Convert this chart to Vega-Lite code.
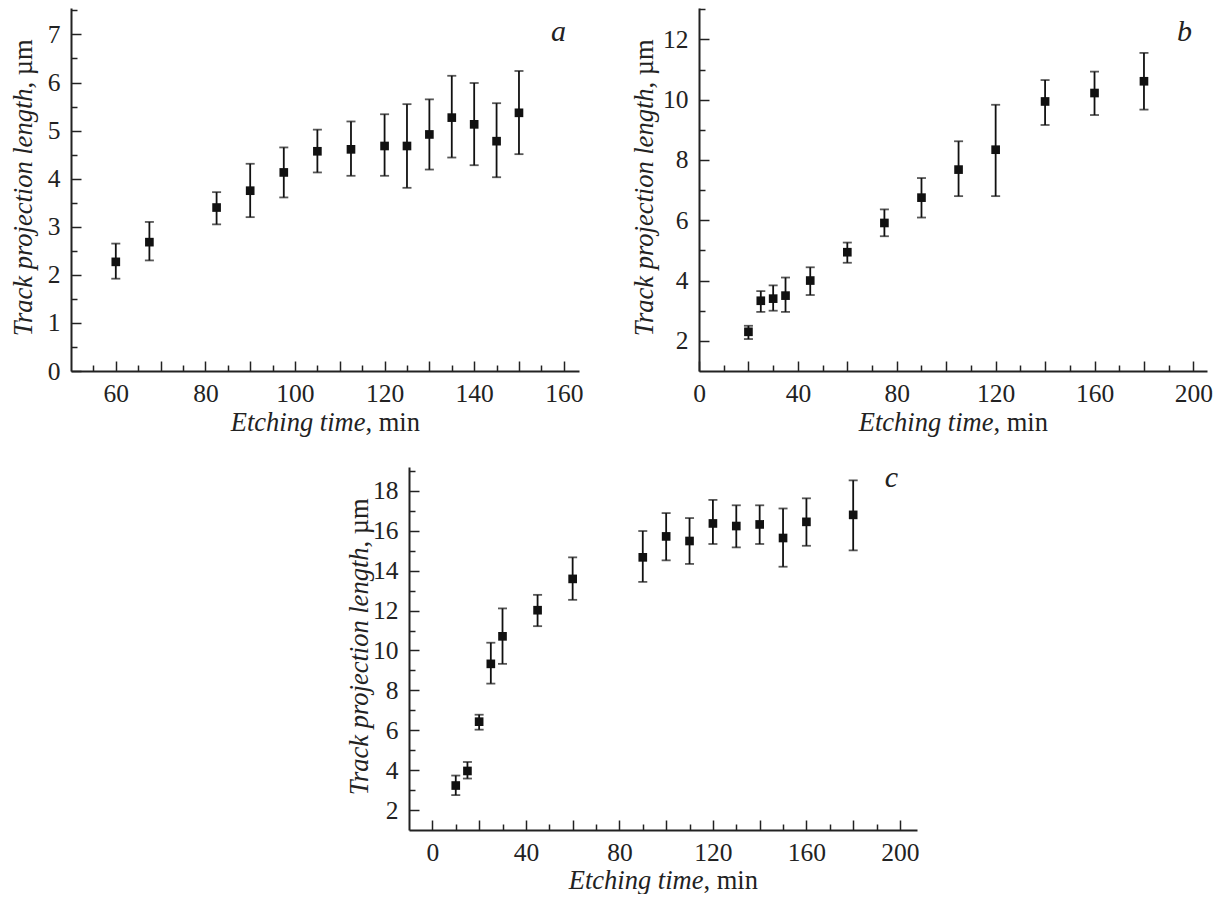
{
  "$schema": "https://vega.github.io/schema/vega-lite/v6.json",
  "padding": {"left": 9, "top": 8, "right": 0, "bottom": 0},
  "background": "white",
  "datasets": {
    "a": [
      {"t": 60, "len": 2.27, "lo": 1.92, "hi": 2.65},
      {"t": 67.5, "len": 2.68, "lo": 2.30, "hi": 3.10},
      {"t": 82.5, "len": 3.40, "lo": 3.05, "hi": 3.72},
      {"t": 90, "len": 3.75, "lo": 3.20, "hi": 4.31},
      {"t": 97.5, "len": 4.13, "lo": 3.61, "hi": 4.65},
      {"t": 105, "len": 4.57, "lo": 4.13, "hi": 5.02},
      {"t": 112.5, "len": 4.61, "lo": 4.06, "hi": 5.19},
      {"t": 120, "len": 4.68, "lo": 4.06, "hi": 5.34},
      {"t": 125, "len": 4.68, "lo": 3.81, "hi": 5.55},
      {"t": 130, "len": 4.92, "lo": 4.19, "hi": 5.65},
      {"t": 135, "len": 5.27, "lo": 4.44, "hi": 6.14},
      {"t": 140, "len": 5.13, "lo": 4.28, "hi": 5.99},
      {"t": 145, "len": 4.78, "lo": 4.03, "hi": 5.57},
      {"t": 150, "len": 5.37, "lo": 4.51, "hi": 6.24}
    ],
    "b": [
      {"t": 20, "len": 2.30, "lo": 2.06, "hi": 2.50},
      {"t": 25, "len": 3.33, "lo": 2.96, "hi": 3.65},
      {"t": 30, "len": 3.40, "lo": 3.00, "hi": 3.84},
      {"t": 35, "len": 3.50, "lo": 2.96, "hi": 4.10},
      {"t": 45, "len": 4.00, "lo": 3.52, "hi": 4.44},
      {"t": 60, "len": 4.94, "lo": 4.59, "hi": 5.26},
      {"t": 75, "len": 5.91, "lo": 5.47, "hi": 6.36},
      {"t": 90, "len": 6.75, "lo": 6.09, "hi": 7.40},
      {"t": 105, "len": 7.68, "lo": 6.80, "hi": 8.62},
      {"t": 120, "len": 8.34, "lo": 6.80, "hi": 9.83},
      {"t": 140, "len": 9.94, "lo": 9.16, "hi": 10.65},
      {"t": 160, "len": 10.22, "lo": 9.49, "hi": 10.93},
      {"t": 180, "len": 10.61, "lo": 9.67, "hi": 11.55}
    ],
    "c": [
      {"t": 10, "len": 3.23, "lo": 2.75, "hi": 3.73},
      {"t": 15, "len": 3.96, "lo": 3.58, "hi": 4.41},
      {"t": 20, "len": 6.43, "lo": 6.03, "hi": 6.78},
      {"t": 25, "len": 9.33, "lo": 8.34, "hi": 10.39},
      {"t": 30, "len": 10.71, "lo": 9.33, "hi": 12.11},
      {"t": 45, "len": 12.02, "lo": 11.22, "hi": 12.79},
      {"t": 60, "len": 13.59, "lo": 12.54, "hi": 14.67},
      {"t": 90, "len": 14.67, "lo": 13.44, "hi": 15.99},
      {"t": 100, "len": 15.72, "lo": 14.52, "hi": 16.89},
      {"t": 110, "len": 15.49, "lo": 14.34, "hi": 16.64},
      {"t": 120, "len": 16.37, "lo": 15.34, "hi": 17.55},
      {"t": 130, "len": 16.24, "lo": 15.17, "hi": 17.28},
      {"t": 140, "len": 16.32, "lo": 15.34, "hi": 17.28},
      {"t": 150, "len": 15.64, "lo": 14.20, "hi": 17.12},
      {"t": 160, "len": 16.45, "lo": 15.25, "hi": 17.63},
      {"t": 180, "len": 16.80, "lo": 15.02, "hi": 18.53}
    ]
  },
  "spacing": 27,
  "vconcat": [
    {
      "bounds": "flush",
      "spacing": 120,
      "hconcat": [
        {
          "width": 508, "height": 363,
          "title": {"text": "a", "anchor": "end", "frame": "group", "fontSize": 30, "fontStyle": "italic", "fontWeight": "normal", "font": "Liberation Serif", "color": "#222", "offset": 0, "dx": -13, "dy": 63, "baseline": "alphabetic"},
          "data": {"name": "a"},
          "layer": [
            {"mark": {"type": "rule", "strokeWidth": 1.8, "color": "#111"},
             "encoding": {
               "x": {"field": "t", "type": "quantitative", "scale": {"domain": [50, 163.4], "nice": false, "zero": false},
                     "axis": {"orient": "bottom", "values": [60,70,80,90,100,110,120,130,140,150,160], "labelExpr": "datum.value % 20 === 0 ? datum.label : ''", "tickSize": -10, "labelPadding": 20, "title": "Etching time", "titleFontStyle": "italic", "titleX": 294, "titleY": 59, "titleAlign": "right", "titleBaseline": "alphabetic"}},
               "y": {"field": "lo", "type": "quantitative", "scale": {"domain": [0, 7.55], "nice": false, "zero": false},
                     "axis": {"orient": "left", "values": [0,1,2,3,4,5,6,7], "tickSize": -10, "labelPadding": 21, "title": "Track projection length", "titleFontStyle": "italic", "titleX": -40, "titleY": 80, "titleAlign": "right", "titleBaseline": "alphabetic"}},
               "y2": {"field": "hi"}}},
            {"mark": {"type": "point", "shape": "square", "filled": true, "size": 75, "color": "#111", "opacity": 1},
             "encoding": {
               "x": {"field": "t", "type": "quantitative", "axis": {"orient": "bottom", "values": [55,65,75,85,95,105,115,125,135,145,155], "labels": false, "domain": false, "tickSize": -6, "title": ", min", "titleFontStyle": "normal", "titleX": 294, "titleY": 59, "titleAlign": "left", "titleBaseline": "alphabetic"}},
               "y": {"field": "len", "type": "quantitative", "axis": {"orient": "left", "values": [0.5,1.5,2.5,3.5,4.5,5.5,6.5,7.5], "labels": false, "domain": false, "tickSize": -6, "title": ", µm", "titleFontStyle": "normal", "titleX": -40, "titleY": 80, "titleAlign": "left", "titleBaseline": "alphabetic"}}}},
            {"mark": {"type": "tick", "orient": "horizontal", "size": 9, "thickness": 1.8, "color": "#111"},
             "encoding": {"x": {"field": "t", "type": "quantitative", "axis": null}, "y": {"field": "hi", "type": "quantitative", "axis": null}}},
            {"mark": {"type": "tick", "orient": "horizontal", "size": 9, "thickness": 1.8, "color": "#111"},
             "encoding": {"x": {"field": "t", "type": "quantitative", "axis": null}, "y": {"field": "lo", "type": "quantitative", "axis": null}}}
          ],
          "resolve": {"axis": {"x": "independent", "y": "independent"}}
        },
        {
          "width": 508, "height": 363,
          "title": {"text": "b", "anchor": "end", "frame": "group", "fontSize": 30, "fontStyle": "italic", "fontWeight": "normal", "font": "Liberation Serif", "color": "#222", "offset": 0, "dx": -15, "dy": 63, "baseline": "alphabetic"},
          "data": {"name": "b"},
          "layer": [
            {"mark": {"type": "rule", "strokeWidth": 1.8, "color": "#111"},
             "encoding": {
               "x": {"field": "t", "type": "quantitative", "scale": {"domain": [0, 205.5], "nice": false, "zero": false},
                     "axis": {"orient": "bottom", "values": [0,20,40,60,80,100,120,140,160,180,200], "labelExpr": "datum.value % 40 === 0 ? datum.label : ''", "tickSize": -10, "labelPadding": 20, "title": "Etching time", "titleFontStyle": "italic", "titleX": 294, "titleY": 59, "titleAlign": "right", "titleBaseline": "alphabetic"}},
               "y": {"field": "lo", "type": "quantitative", "scale": {"domain": [1, 13.04], "nice": false, "zero": false},
                     "axis": {"orient": "left", "values": [2,4,6,8,10,12], "tickSize": -10, "labelPadding": 21, "title": "Track projection length", "titleFontStyle": "italic", "titleX": -47, "titleY": 80, "titleAlign": "right", "titleBaseline": "alphabetic"}},
               "y2": {"field": "hi"}}},
            {"mark": {"type": "point", "shape": "square", "filled": true, "size": 75, "color": "#111", "opacity": 1},
             "encoding": {
               "x": {"field": "t", "type": "quantitative", "axis": {"orient": "bottom", "values": [10,30,50,70,90,110,130,150,170,190], "labels": false, "domain": false, "tickSize": -6, "title": ", min", "titleFontStyle": "normal", "titleX": 294, "titleY": 59, "titleAlign": "left", "titleBaseline": "alphabetic"}},
               "y": {"field": "len", "type": "quantitative", "axis": {"orient": "left", "values": [3,5,7,9,11,13], "labels": false, "domain": false, "tickSize": -6, "title": ", µm", "titleFontStyle": "normal", "titleX": -47, "titleY": 80, "titleAlign": "left", "titleBaseline": "alphabetic"}}}},
            {"mark": {"type": "tick", "orient": "horizontal", "size": 9, "thickness": 1.8, "color": "#111"},
             "encoding": {"x": {"field": "t", "type": "quantitative", "axis": null}, "y": {"field": "hi", "type": "quantitative", "axis": null}}},
            {"mark": {"type": "tick", "orient": "horizontal", "size": 9, "thickness": 1.8, "color": "#111"},
             "encoding": {"x": {"field": "t", "type": "quantitative", "axis": null}, "y": {"field": "lo", "type": "quantitative", "axis": null}}}
          ],
          "resolve": {"axis": {"x": "independent", "y": "independent"}}
        }
      ]
    },
    {
      "bounds": "flush",
      "spacing": 0,
      "hconcat": [
        {
          "width": 338, "height": 1,
          "data": {"values": []},
          "mark": {"type": "point", "opacity": 0},
          "encoding": {}
        },
        {
          "width": 508, "height": 363,
          "title": {"text": "c", "anchor": "end", "frame": "group", "fontSize": 30, "fontStyle": "italic", "fontWeight": "normal", "font": "Liberation Serif", "color": "#222", "offset": 0, "dx": -19, "dy": 50, "baseline": "alphabetic"},
          "data": {"name": "c"},
          "layer": [
            {"mark": {"type": "rule", "strokeWidth": 1.8, "color": "#111"},
             "encoding": {
               "x": {"field": "t", "type": "quantitative", "scale": {"domain": [-10, 207.3], "nice": false, "zero": false},
                     "axis": {"orient": "bottom", "values": [0,20,40,60,80,100,120,140,160,180,200], "labelExpr": "datum.value % 40 === 0 ? datum.label : ''", "tickSize": -10, "labelPadding": 20, "title": "Etching time", "titleFontStyle": "italic", "titleX": 294, "titleY": 58, "titleAlign": "right", "titleBaseline": "alphabetic"}},
               "y": {"field": "lo", "type": "quantitative", "scale": {"domain": [1, 19.2], "nice": false, "zero": false},
                     "axis": {"orient": "left", "values": [2,4,6,8,10,12,14,16,18], "tickSize": -10, "labelPadding": 21, "title": "Track projection length", "titleFontStyle": "italic", "titleX": -42, "titleY": 80, "titleAlign": "right", "titleBaseline": "alphabetic"}},
               "y2": {"field": "hi"}}},
            {"mark": {"type": "point", "shape": "square", "filled": true, "size": 75, "color": "#111", "opacity": 1},
             "encoding": {
               "x": {"field": "t", "type": "quantitative", "axis": {"orient": "bottom", "values": [10,30,50,70,90,110,130,150,170,190], "labels": false, "domain": false, "tickSize": -6, "title": ", min", "titleFontStyle": "normal", "titleX": 294, "titleY": 58, "titleAlign": "left", "titleBaseline": "alphabetic"}},
               "y": {"field": "len", "type": "quantitative", "axis": {"orient": "left", "values": [3,5,7,9,11,13,15,17,19], "labels": false, "domain": false, "tickSize": -6, "title": ", µm", "titleFontStyle": "normal", "titleX": -42, "titleY": 80, "titleAlign": "left", "titleBaseline": "alphabetic"}}}},
            {"mark": {"type": "tick", "orient": "horizontal", "size": 9, "thickness": 1.8, "color": "#111"},
             "encoding": {"x": {"field": "t", "type": "quantitative", "axis": null}, "y": {"field": "hi", "type": "quantitative", "axis": null}}},
            {"mark": {"type": "tick", "orient": "horizontal", "size": 9, "thickness": 1.8, "color": "#111"},
             "encoding": {"x": {"field": "t", "type": "quantitative", "axis": null}, "y": {"field": "lo", "type": "quantitative", "axis": null}}}
          ],
          "resolve": {"axis": {"x": "independent", "y": "independent"}}
        }
      ]
    }
  ],
  "config": {
    "view": {"stroke": null},
    "font": "Liberation Serif",
    "axis": {
      "grid": false,
      "domainColor": "#222",
      "domainWidth": 2,
      "tickColor": "#222",
      "tickWidth": 1.5,
      "labelFont": "Liberation Serif",
      "labelFontSize": 25.5,
      "labelColor": "#222",
      "labelFlush": false,
      "labelOverlap": false,
      "titleFont": "Liberation Serif",
      "titleFontSize": 26.5,
      "titleFontWeight": "normal",
      "titleColor": "#222"
    }
  }
}
